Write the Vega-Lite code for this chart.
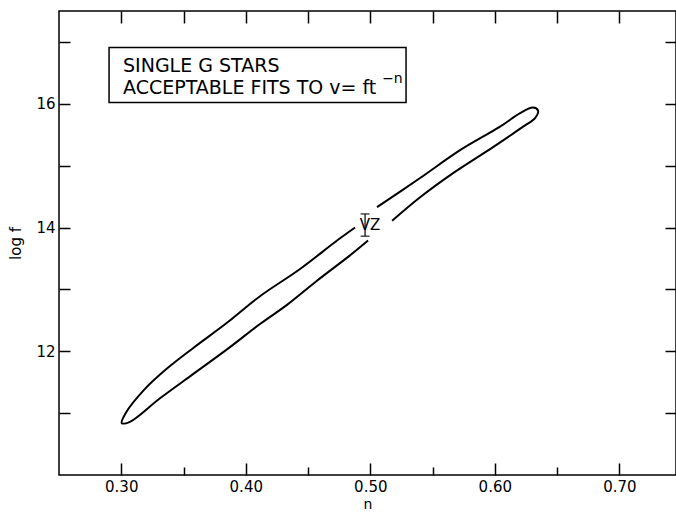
{
  "$schema": "https://vega.github.io/schema/vega-lite/v6.json",
  "width": 617,
  "height": 464,
  "autosize": {"type": "none"},
  "padding": {"left": 59, "top": 11, "right": 0, "bottom": 41},
  "background": "white",
  "config": {
    "view": {"stroke": "black", "strokeWidth": 1.5},
    "axis": {
      "labelFont": "DejaVu Sans",
      "titleFont": "DejaVu Sans",
      "labelColor": "black",
      "titleColor": "black",
      "labelFontSize": 15,
      "titleFontSize": 15,
      "titleFontWeight": "normal",
      "domain": false,
      "grid": false,
      "tickColor": "black",
      "tickWidth": 1.5
    }
  },
  "datasets": {
    "contour": [
      {"seg": "A", "i": 1, "n": 0.4878, "logf": 14.0},
      {"seg": "A", "i": 2, "n": 0.4733, "logf": 13.79},
      {"seg": "A", "i": 3, "n": 0.4436, "logf": 13.33},
      {"seg": "A", "i": 4, "n": 0.4114, "logf": 12.89},
      {"seg": "A", "i": 5, "n": 0.3849, "logf": 12.46},
      {"seg": "A", "i": 6, "n": 0.3576, "logf": 12.05},
      {"seg": "A", "i": 7, "n": 0.3367, "logf": 11.72},
      {"seg": "A", "i": 8, "n": 0.3185, "logf": 11.38},
      {"seg": "A", "i": 9, "n": 0.3035, "logf": 11.0},
      {"seg": "A", "i": 10, "n": 0.3004, "logf": 10.84},
      {"seg": "A", "i": 11, "n": 0.307, "logf": 10.86},
      {"seg": "A", "i": 12, "n": 0.3311, "logf": 11.24},
      {"seg": "A", "i": 13, "n": 0.3576, "logf": 11.63},
      {"seg": "A", "i": 14, "n": 0.3849, "logf": 12.03},
      {"seg": "A", "i": 15, "n": 0.4114, "logf": 12.44},
      {"seg": "A", "i": 16, "n": 0.4331, "logf": 12.75},
      {"seg": "A", "i": 17, "n": 0.4572, "logf": 13.14},
      {"seg": "A", "i": 18, "n": 0.4837, "logf": 13.55},
      {"seg": "A", "i": 19, "n": 0.4982, "logf": 13.79},
      {"seg": "B", "i": 1, "n": 0.5054, "logf": 14.33},
      {"seg": "B", "i": 2, "n": 0.54, "logf": 14.8},
      {"seg": "B", "i": 3, "n": 0.5721, "logf": 15.25},
      {"seg": "B", "i": 4, "n": 0.6042, "logf": 15.63},
      {"seg": "B", "i": 5, "n": 0.6203, "logf": 15.85},
      {"seg": "B", "i": 6, "n": 0.6307, "logf": 15.94},
      {"seg": "B", "i": 7, "n": 0.6347, "logf": 15.89},
      {"seg": "B", "i": 8, "n": 0.6323, "logf": 15.77},
      {"seg": "B", "i": 9, "n": 0.6227, "logf": 15.63},
      {"seg": "B", "i": 10, "n": 0.5986, "logf": 15.3},
      {"seg": "B", "i": 11, "n": 0.5665, "logf": 14.88},
      {"seg": "B", "i": 12, "n": 0.54, "logf": 14.49},
      {"seg": "B", "i": 13, "n": 0.5175, "logf": 14.11}
    ],
    "box": [{"x1": 0.2902, "x2": 0.5287, "y1": 16.02, "y2": 16.91}],
    "lines": [
      {"text": "SINGLE G  STARS", "n": 0.3014, "logf": 16.52},
      {"text": "ACCEPTABLE FITS TO v= ft", "n": 0.3014, "logf": 16.163}
    ],
    "sup": [{"text": "−n", "n": 0.5095, "logf": 16.34}],
    "vz": [{"text": "VZ", "n": 0.4998, "logf": 14.04}],
    "bar": [{"n": 0.4958, "lo": 13.86, "hi": 14.22}]
  },
  "layer": [
    {
      "data": {"name": "contour"},
      "mark": {"type": "line", "interpolate": "catmull-rom", "color": "black", "strokeWidth": 2},
      "encoding": {
        "x": {"field": "n", "type": "quantitative",
          "scale": {"domain": [0.25, 0.7455], "nice": false, "zero": false},
          "axis": {"orient": "bottom", "title": "n", "values": [0.3, 0.4, 0.5, 0.6, 0.7], "format": ".2f", "tickSize": -12, "labelPadding": 16, "titlePadding": 3, "labelFontSize": 15, "titleFontSize": 14, "labelFont": "DejaVu Sans", "titleFont": "DejaVu Sans"}},
        "y": {"field": "logf", "type": "quantitative",
          "scale": {"domain": [10, 17.5], "nice": false, "zero": false},
          "axis": {"orient": "left", "title": "log f", "values": [12, 14, 16], "tickSize": -11, "labelPadding": 15, "titlePadding": 12, "labelFontSize": 15, "titleFontSize": 15, "labelFont": "DejaVu Sans", "titleFont": "DejaVu Sans"}},
        "detail": {"field": "seg"},
        "order": {"field": "i", "type": "quantitative"}
      }
    },
    {
      "data": {"name": "contour"},
      "mark": {"type": "point", "opacity": 0},
      "encoding": {
        "x": {"field": "n", "type": "quantitative",
          "axis": {"orient": "bottom", "title": null, "values": [0.35, 0.45, 0.55, 0.65], "labels": false, "tickSize": -8}},
        "y": {"field": "logf", "type": "quantitative",
          "axis": {"orient": "left", "title": null, "values": [11, 13, 15, 17], "labels": false, "tickSize": -11}}
      }
    },
    {
      "data": {"name": "contour"},
      "mark": {"type": "point", "opacity": 0},
      "encoding": {
        "x": {"field": "n", "type": "quantitative",
          "axis": {"orient": "top", "title": null, "values": [0.3, 0.35, 0.4, 0.45, 0.5, 0.55, 0.6, 0.65, 0.7], "labels": false, "tickSize": -12}},
        "y": {"field": "logf", "type": "quantitative",
          "axis": {"orient": "right", "title": null, "values": [11, 12, 13, 14, 15, 16, 17], "labels": false, "tickSize": -11}}
      }
    },
    {
      "data": {"name": "box"},
      "mark": {"type": "rect", "fill": null, "stroke": "black", "strokeWidth": 1.5},
      "encoding": {
        "x": {"field": "x1", "type": "quantitative", "axis": null},
        "x2": {"field": "x2"},
        "y": {"field": "y1", "type": "quantitative", "axis": null},
        "y2": {"field": "y2"}
      }
    },
    {
      "data": {"name": "lines"},
      "mark": {"type": "text", "align": "left", "baseline": "alphabetic", "font": "DejaVu Sans", "fontSize": 19, "color": "black"},
      "encoding": {
        "x": {"field": "n", "type": "quantitative", "axis": null},
        "y": {"field": "logf", "type": "quantitative", "axis": null},
        "text": {"field": "text"}
      }
    },
    {
      "data": {"name": "sup"},
      "mark": {"type": "text", "align": "left", "baseline": "alphabetic", "font": "DejaVu Sans", "fontSize": 14, "color": "black"},
      "encoding": {
        "x": {"field": "n", "type": "quantitative", "axis": null},
        "y": {"field": "logf", "type": "quantitative", "axis": null},
        "text": {"field": "text"}
      }
    },
    {
      "data": {"name": "vz"},
      "mark": {"type": "text", "align": "center", "baseline": "middle", "font": "DejaVu Sans", "fontSize": 15, "color": "black"},
      "encoding": {
        "x": {"field": "n", "type": "quantitative", "axis": null},
        "y": {"field": "logf", "type": "quantitative", "axis": null},
        "text": {"field": "text"}
      }
    },
    {
      "data": {"name": "bar"},
      "mark": {"type": "rule", "color": "black", "strokeWidth": 1.2},
      "encoding": {
        "x": {"field": "n", "type": "quantitative", "axis": null},
        "y": {"field": "lo", "type": "quantitative", "axis": null},
        "y2": {"field": "hi"}
      }
    },
    {
      "data": {"name": "bar"},
      "mark": {"type": "tick", "orient": "horizontal", "color": "black", "size": 9, "thickness": 1.5},
      "encoding": {
        "x": {"field": "n", "type": "quantitative", "axis": null},
        "y": {"field": "lo", "type": "quantitative", "axis": null}
      }
    },
    {
      "data": {"name": "bar"},
      "mark": {"type": "tick", "orient": "horizontal", "color": "black", "size": 9, "thickness": 1.5},
      "encoding": {
        "x": {"field": "n", "type": "quantitative", "axis": null},
        "y": {"field": "hi", "type": "quantitative", "axis": null}
      }
    }
  ],
  "resolve": {"axis": {"x": "independent", "y": "independent"}}
}
